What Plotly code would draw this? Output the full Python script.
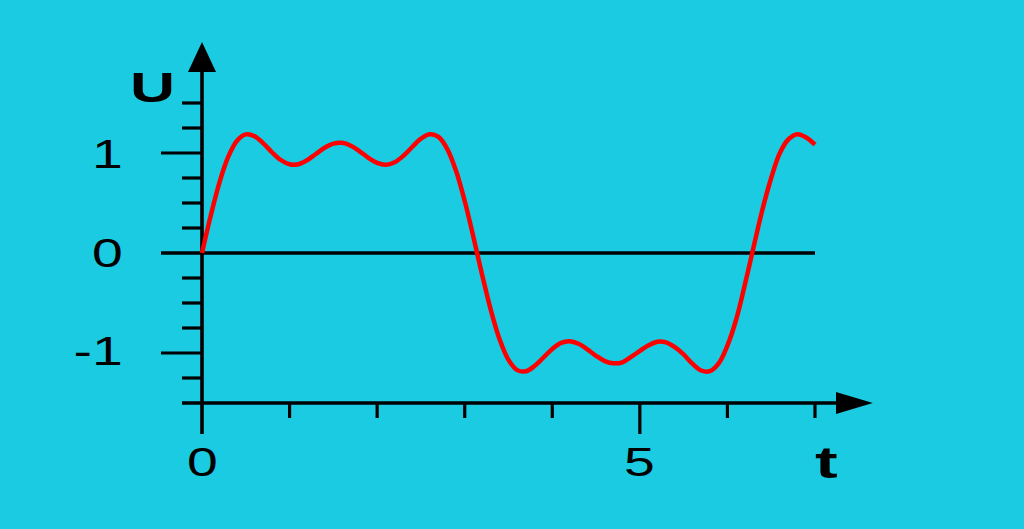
import json
import plotly.graph_objects as go

# Curve samples (time t, voltage U)
t_vals = [0.0, 0.1, 0.2, 0.3, 0.4, 0.5, 0.6, 0.7, 0.8, 0.9, 1.0, 1.1, 1.2, 1.3, 1.4,
          1.5, 1.6, 1.7, 1.8, 1.9, 2.0, 2.1, 2.2, 2.3, 2.4, 2.5, 2.6, 2.7, 2.8, 2.9,
          3.0, 3.1, 3.2, 3.3, 3.4, 3.5, 3.6, 3.7, 3.8, 3.9, 4.0, 4.1, 4.2, 4.3, 4.4,
          4.5, 4.6, 4.7, 4.8, 4.9, 5.0, 5.1, 5.2, 5.3, 5.4, 5.5, 5.6, 5.7, 5.8, 5.9,
          6.0, 6.1, 6.2, 6.3, 6.4, 6.5, 6.6, 6.7, 6.8, 6.9, 7.0]
u_vals = [0.0, 0.375, 0.707, 0.963, 1.123, 1.186, 1.168, 1.097, 1.007, 0.930, 0.887,
          0.888, 0.928, 0.990, 1.052, 1.094, 1.102, 1.073, 1.017, 0.952, 0.901,
          0.882, 0.907, 0.972, 1.060, 1.143, 1.187, 1.161, 1.042, 0.824, 0.520,
          0.158, -0.222, -0.576, -0.867, -1.069, -1.171, -1.183, -1.128, -1.045,
          -0.959, -0.899, -0.882, -0.908, -0.963, -1.028, -1.081, -1.103, -1.093,
          -1.039, -0.979, -0.923, -0.887, -0.893, -0.942, -1.014, -1.107, -1.175,
          -1.182, -1.104, -0.926, -0.665, -0.314, 0.064, 0.435, 0.750, 1.002, 1.140,
          1.188, 1.155, 1.083]

x_minor_ticks = [1, 2, 3, 4, 6, 7]
x_major_ticks = [5]
x_labels = ["0", "5"]
x_label_pos = [0, 5]
y_minor_ticks = [-1.25, -0.75, -0.5, -0.25, 0.25, 0.5, 0.75, 1.25, 1.5]
y_major_ticks = [-1, 1]
y_labels = ["1", "0", "-1"]
y_label_pos = [1, 0, -1]

BG = "#1BCBE1"
BLACK = "black"

fig = go.Figure()
fig.add_trace(go.Scatter(x=t_vals, y=u_vals, mode="lines",
                         line=dict(color="#FF0000", width=4.5, shape="spline", smoothing=1.0),
                         hoverinfo="skip"))

shapes = []
def seg(x0, y0, x1, y1, w):
    shapes.append(dict(type="line", x0=x0, y0=y0, x1=x1, y1=y1, xref="x", yref="y",
                       line=dict(color=BLACK, width=w), layer="below"))

# axes
seg(0, -1.81, 0, 1.85, 3.6)
seg(-0.228, -1.5, 7.26, -1.5, 3.6)
# zero line
seg(-0.468, 0, 7.0, 0, 3.4)
for y in y_minor_ticks:
    seg(-0.228, y, 0, y, 3.2)
for y in y_major_ticks:
    seg(-0.468, y, 0, y, 3.2)
for x in x_minor_ticks:
    seg(x, -1.5, x, -1.65, 3.2)
for x in x_major_ticks:
    seg(x, -1.5, x, -1.81, 3.2)

# arrowheads
shapes.append(dict(type="path", xref="x", yref="y",
                   path="M -0.16 1.81 L 0.16 1.81 L 0 2.11 Z",
                   fillcolor=BLACK, line=dict(width=0)))
shapes.append(dict(type="path", xref="x", yref="y",
                   path="M 7.24 -1.39 L 7.24 -1.61 L 7.66 -1.5 Z",
                   fillcolor=BLACK, line=dict(width=0)))

annotations = []
stretch = []
FONT = "Liberation Sans, Arial, sans-serif"
y_label_x = {"1": -1.080, "0": -1.080, "-1": -1.183}
y_label_dy = {"1": -0.01, "0": 0.005, "-1": 0.02}
for txt, y in zip(y_labels, y_label_pos):
    annotations.append(dict(x=y_label_x[txt], y=y + y_label_dy[txt], xref="x", yref="y",
                            text=txt, showarrow=False, xanchor="center", yanchor="middle",
                            font=dict(family=FONT, size=41, color=BLACK)))
    stretch.append(1.35)
for txt, x in zip(x_labels, x_label_pos):
    annotations.append(dict(x=x, y=-2.085, xref="x", yref="y", text=txt,
                            showarrow=False, xanchor="center", yanchor="middle",
                            font=dict(family=FONT, size=41, color=BLACK)))
    stretch.append(1.35)
annotations.append(dict(x=7.137, y=-2.09, xref="x", yref="y", text="<b>t</b>",
                        showarrow=False, xanchor="center", yanchor="middle",
                        font=dict(family=FONT, size=44, color=BLACK)))
stretch.append(1.55)
annotations.append(dict(x=-0.571, y=1.665, xref="x", yref="y", text="<b>U</b>",
                        showarrow=False, xanchor="center", yanchor="middle",
                        font=dict(family=FONT, size=43, color=BLACK)))
stretch.append(1.45)

fig.update_layout(
    width=1024, height=529,
    margin=dict(l=0, r=0, t=0, b=0),
    paper_bgcolor=BG, plot_bgcolor=BG,
    showlegend=False,
    xaxis=dict(range=[-202 / 87.57, (1024 - 202) / 87.57], visible=False, fixedrange=True),
    yaxis=dict(range=[(253 - 529) / 100.0, 253 / 100.0], visible=False, fixedrange=True),
    shapes=shapes,
    annotations=annotations,
)

post = """
document.body.style.margin='0';document.body.style.overflow='hidden';
var S=%s;
var gd=document.getElementById('{plot_id}');
gd.querySelectorAll('g.annotation').forEach(function(g){
  var i=parseInt(g.getAttribute('data-index'));
  var t=g.querySelector('text');
  if(t && S[i]){t.style.transformBox='fill-box';t.style.transformOrigin='center';
    t.style.transform='scaleX('+S[i]+')';}
});
""" % json.dumps(stretch)

fig.write_html("out.html", config={"displayModeBar": False}, post_script=post)
